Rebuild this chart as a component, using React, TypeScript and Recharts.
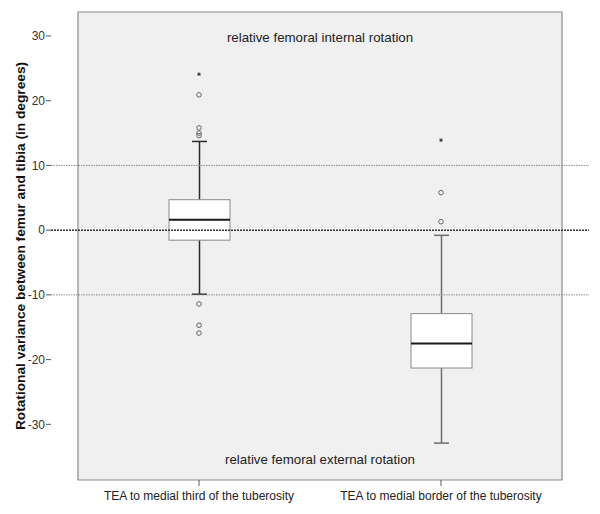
import React from "react";
import {
  ComposedChart,
  Bar,
  Scatter,
  XAxis,
  YAxis,
  ReferenceArea,
  ReferenceLine,
} from "recharts";

const categories = ["TEA to medial third of the tuberosity", "TEA to medial border of the tuberosity"];
const whiskerLow = [-9.9, -32.9];
const quartile1 = [-1.55, -21.3];
const medians = [1.6, -17.5];
const quartile3 = [4.7, -12.9];
const whiskerHigh = [13.7, -0.8];

// outliers per category: circles ("o") and extreme values ("*")
const outlierCategory = [0, 0, 0, 0, 0, 0, 0, 0, 1, 1, 1];
const outlierValues = [24.1, 20.9, 15.8, 15.0, 14.6, -11.4, -14.7, -15.9, 13.9, 5.8, 1.3];
const outlierKinds = ["*", "o", "o", "o", "o", "o", "o", "o", "*", "o", "o"];

const yTicks = [-30, -20, -10, 0, 10, 20, 30];
const yDomain = [-38.6, 33.7];

const whiskerColors = ["#2a2a2a", "#6e6e6e"];
const font = "'Liberation Sans', Arial, sans-serif";

const boxData = categories.map((name, i) => ({
  name,
  range: [whiskerLow[i], whiskerHigh[i]],
  q1: quartile1[i],
  med: medians[i],
  q3: quartile3[i],
  lo: whiskerLow[i],
  hi: whiskerHigh[i],
  idx: i,
}));

const outlierData = outlierCategory.map((c, i) => ({
  name: categories[c],
  value: outlierValues[i],
  kind: outlierKinds[i],
}));

const BoxShape = (props: any) => {
  const { x, y, width, height, payload } = props;
  const top = Math.min(y, y + height);
  const h = Math.abs(height);
  const p = payload;
  const py = (v: number) => top + ((p.hi - v) / (p.hi - p.lo)) * h;
  const cx = x + width / 2;
  const color = whiskerColors[p.idx];
  const capW = 15;
  return (
    <g>
      <line x1={cx} x2={cx} y1={py(p.hi)} y2={py(p.lo)} stroke={color} strokeWidth={1.5} />
      <line x1={cx - capW / 2} x2={cx + capW / 2} y1={py(p.hi)} y2={py(p.hi)} stroke={color} strokeWidth={1.5} />
      <line x1={cx - capW / 2} x2={cx + capW / 2} y1={py(p.lo)} y2={py(p.lo)} stroke={color} strokeWidth={1.5} />
      <rect x={x} y={py(p.q3)} width={width} height={py(p.q1) - py(p.q3)} fill="#ffffff" stroke="#8a8a8a" strokeWidth={1} />
      <line x1={x} x2={x + width} y1={py(p.med)} y2={py(p.med)} stroke="#1a1a1a" strokeWidth={2} />
    </g>
  );
};

const OutlierShape = (props: any) => {
  const { cx, cy, payload } = props;
  if (payload.kind === "*") {
    return (
      <g stroke="#333" strokeWidth={0.9}>
        <line x1={cx - 1.8} x2={cx + 1.8} y1={cy} y2={cy} />
        <line x1={cx} x2={cx} y1={cy - 1.8} y2={cy + 1.8} />
        <line x1={cx - 1.3} x2={cx + 1.3} y1={cy - 1.3} y2={cy + 1.3} />
        <line x1={cx - 1.3} x2={cx + 1.3} y1={cy + 1.3} y2={cy - 1.3} />
      </g>
    );
  }
  return <circle cx={cx} cy={cy} r={2.3} fill="none" stroke="#666" strokeWidth={1} />;
};

export default function App() {
  return (
    <div style={{ position: "absolute", left: 0, top: 0, background: "#fff" }}>
      <ComposedChart
        width={600}
        height={514}
        data={boxData}
        margin={{ top: 12, right: 11, bottom: 0, left: 0 }}
        style={{ fontFamily: font }}
      >
        <ReferenceArea y1={yDomain[0]} y2={yDomain[1]} fill="#f0f0f0" fillOpacity={1} stroke="#8a8a8a" strokeWidth={1.2} />
        <ReferenceLine y={10} stroke="#8a8a8a" strokeDasharray="1.5 1" />
        <ReferenceLine y={-10} stroke="#8a8a8a" strokeDasharray="1.5 1" />
        <ReferenceLine y={0} stroke="#333" strokeWidth={1.5} strokeDasharray="2 1" />
        <ReferenceLine
          y={29.85}
          stroke="none"
          label={{ value: "relative femoral internal rotation", position: "center", fill: "#222", fontSize: 13.3, fontFamily: font }}
        />
        <ReferenceLine
          y={-35.4}
          stroke="none"
          label={{ value: "relative femoral external rotation", position: "center", fill: "#222", fontSize: 13.3, fontFamily: font }}
        />
        <XAxis
          dataKey="name"
          type="category"
          allowDuplicatedCategory={false}
          padding={{ left: 27, right: 27 }}
          height={34}
          axisLine={false}
          tickSize={6}
          tickLine={{ stroke: "#555" }}
          tick={{ fill: "#222", fontSize: 12, fontFamily: font }}
          tickMargin={5}
          interval={0}
        />
        <YAxis
          type="number"
          domain={yDomain}
          ticks={yTicks}
          allowDataOverflow
          width={51}
          axisLine={false}
          tickSize={5}
          tickMargin={1}
          tickLine={{ stroke: "#555" }}
          tick={{ fill: "#333", fontSize: 12, fontFamily: font }}
          label={{
            value: "Rotational variance between femur and tibia (in degrees)",
            angle: -90,
            position: "insideLeft",
            offset: 20,
            style: { textAnchor: "middle", fontWeight: "bold", fontSize: 13.7, fill: "#111", fontFamily: font },
          }}
        />
        <Bar dataKey="range" barSize={61} shape={<BoxShape />} isAnimationActive={false} />
        <Scatter data={outlierData} dataKey="value" shape={<OutlierShape />} isAnimationActive={false} />
      </ComposedChart>
    </div>
  );
}
